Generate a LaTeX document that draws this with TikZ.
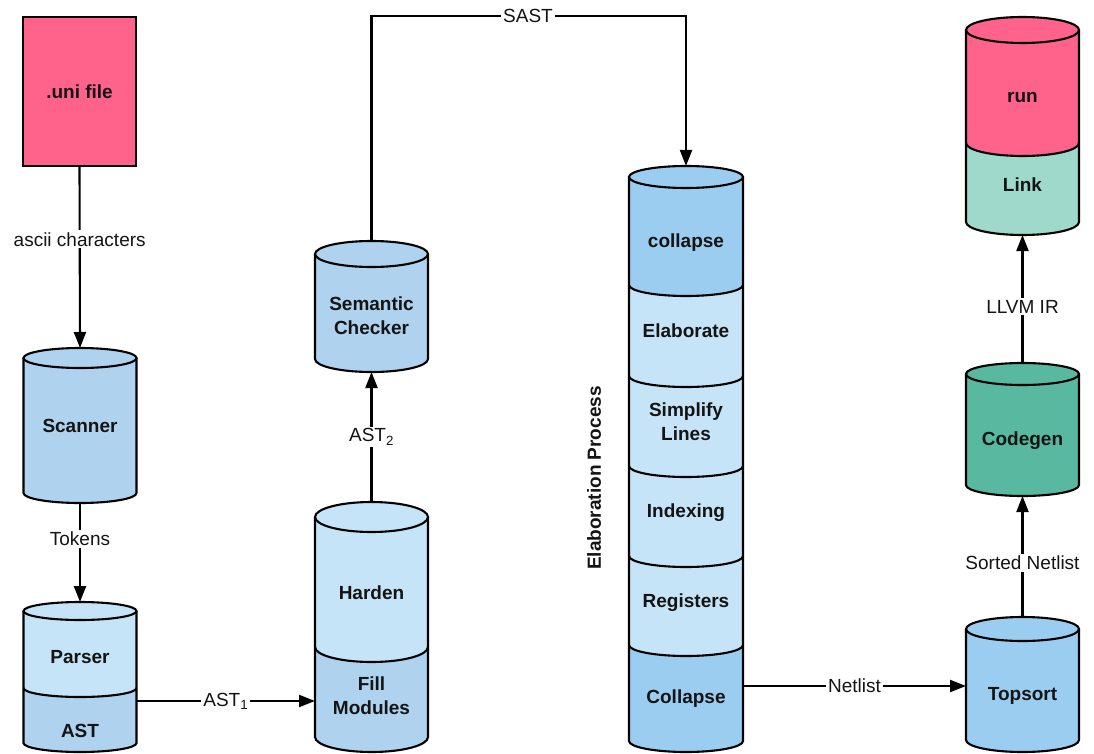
\documentclass[tikz,border=0pt]{standalone}
\usepackage{fontspec}
\setmainfont{Liberation Sans}
\usetikzlibrary{arrows.meta}
\definecolor{pinkc}{HTML}{FF638C}
\definecolor{linkc}{HTML}{9FD9CC}
\definecolor{codegenc}{HTML}{58B8A0}
\definecolor{lightb}{HTML}{C6E4F7}
\definecolor{medb}{HTML}{AFD3EF}
\definecolor{brightb}{HTML}{9BCDF1}
\definecolor{txt}{HTML}{141414}
% cx rx ry topcenter bottomedge colour
\newcommand{\cylFill}[6]{\fill[#6] (#1-#2,-#4) arc[start angle=180,end angle=0,x radius=#2,y radius=#3] -- (#1+#2,-#5) arc[start angle=0,end angle=-180,x radius=#2,y radius=#3] -- cycle;}
\newcommand{\cylBand}[6]{\fill[#6] (#1-#2,-#4) arc[start angle=180,end angle=360,x radius=#2,y radius=#3] -- (#1+#2,-#5) arc[start angle=0,end angle=-180,x radius=#2,y radius=#3] -- cycle;}
\newcommand{\cylLine}[5]{\draw (#1,-#4) ellipse[x radius=#2,y radius=#3]; \draw (#1-#2,-#4) -- (#1-#2,-#5) arc[start angle=180,end angle=360,x radius=#2,y radius=#3] -- (#1+#2,-#4);}
\newcommand{\cylDiv}[4]{\draw (#1-#2,-#4) arc[start angle=180,end angle=360,x radius=#2,y radius=#3];}
\begin{document}
\begin{tikzpicture}[x=1pt,y=1pt,line width=2.1pt,
  box/.style={font=\fontsize{19}{24}\selectfont\bfseries,text=txt,align=center,inner sep=0pt},
  lbl/.style={font=\fontsize{19}{24}\selectfont,text=txt,fill=white,inner sep=2pt},
  arr/.style={-{Triangle[length=16pt,width=12pt]}}]
\useasboundingbox (0,0) rectangle (1094,-754);
\fill[white] (0,0) rectangle (1094,-754);

% .uni file
\node[draw,fill=pinkc,minimum width=113pt,minimum height=149pt,box,line width=2.1pt] (uni) at (79.5,-91.5) {.uni file};

% Scanner
\cylFill{80}{56.5}{10}{358}{493}{medb}
\cylLine{80}{56.5}{10}{358}{493}
\node[box] (scanner) at (80,-426) {Scanner};
\coordinate (scanT) at (80,-348);
\coordinate (scanB) at (80,-503);

% Parser / AST
\cylFill{80}{56.5}{9}{611}{688}{lightb}
\cylBand{80}{56.5}{9}{688}{743}{medb}
\cylLine{80}{56.5}{9}{611}{743}
\cylDiv{80}{56.5}{9}{688}
\node[box] (parser) at (80,-657) {Parser};
\node[box] (ast) at (80,-731) {AST};
\coordinate (parT) at (80,-602);
\coordinate (parR) at (136.5,-701);

% Harden / Fill Modules
\cylFill{371.5}{56.5}{15}{517}{647}{lightb}
\cylBand{371.5}{56.5}{15}{647}{737}{medb}
\cylLine{371.5}{56.5}{15}{517}{737}
\cylDiv{371.5}{56.5}{15}{647}
\node[box] (harden) at (371.5,-593) {Harden};
\node[box] (fill) at (371.5,-696) {Fill\\Modules};
\coordinate (harT) at (371.5,-502);
\coordinate (harL) at (315,-701);

% Semantic Checker
\cylFill{371.5}{56.5}{13}{254}{359}{medb}
\cylLine{371.5}{56.5}{13}{254}{359}
\node[box] (sem) at (371.5,-316) {Semantic\\Checker};
\coordinate (semT) at (371.5,-241);
\coordinate (semB) at (371.5,-372);

% Elaboration column
\cylFill{686}{57}{11}{177}{285}{brightb}
\cylBand{686}{57}{11}{285}{376}{lightb}
\cylBand{686}{57}{11}{376}{466}{lightb}
\cylBand{686}{57}{11}{466}{556}{lightb}
\cylBand{686}{57}{11}{556}{645}{lightb}
\cylBand{686}{57}{11}{645}{741}{brightb}
\cylLine{686}{57}{11}{177}{741}
\cylDiv{686}{57}{11}{285}
\cylDiv{686}{57}{11}{376}
\cylDiv{686}{57}{11}{466}
\cylDiv{686}{57}{11}{556}
\cylDiv{686}{57}{11}{645}
\node[box] (collapseA) at (686,-243) {collapse};
\node[box] (elab) at (686,-331) {Elaborate};
\node[box] (simp) at (686,-422) {Simplify\\Lines};
\node[box] (idx) at (686,-513) {Indexing};
\node[box] (reg) at (686,-603) {Registers};
\node[box] (collapseB) at (686,-699) {Collapse};
\coordinate (elabT) at (686,-166);
\coordinate (elabR) at (743,-686);
\node[box,rotate=90] (elabproc) at (594,-478) {Elaboration Process};

% Topsort
\cylFill{1022.5}{56.5}{12}{629}{740}{brightb}
\cylLine{1022.5}{56.5}{12}{629}{740}
\node[box] (topsort) at (1022.5,-696) {Topsort};
\coordinate (topT) at (1022.5,-617);
\coordinate (topL) at (966,-686);

% Codegen
\cylFill{1022.5}{56.5}{11}{374}{485}{codegenc}
\cylLine{1022.5}{56.5}{11}{374}{485}
\node[box] (codegen) at (1022.5,-441) {Codegen};
\coordinate (codT) at (1022.5,-363);
\coordinate (codB) at (1022.5,-496);

% run / Link
\cylFill{1022.5}{56.5}{13}{30}{143}{pinkc}
\cylBand{1022.5}{56.5}{13}{143}{222}{linkc}
\cylLine{1022.5}{56.5}{13}{30}{222}
\cylDiv{1022.5}{56.5}{13}{143}
\node[box] (run) at (1022.5,-97) {run};
\node[box] (link) at (1022.5,-185) {Link};
\coordinate (linkB) at (1022.5,-235);

% connectors
\draw[arr] (uni.south) -- node[lbl,pos=0.4] {ascii characters} (scanT);
\draw[arr] (scanB) -- node[lbl,pos=0.36] {Tokens} (parT);
\draw[arr] (parR) -- node[lbl] {AST\textsubscript{1}} (harL);
\draw[arr] (harT) -- node[lbl] {AST\textsubscript{2}} (semB);
\coordinate (sastY) at (528,-16);
\draw[arr] (semT) |- (sastY) node[lbl] {SAST} -| (elabT);
\draw[arr] (elabR) -- node[lbl] {Netlist} (topL);
\draw[arr] (topT) -- node[lbl,pos=0.45] {Sorted Netlist} (codB);
\draw[arr] (codT) -- node[lbl,pos=0.44] {LLVM IR} (linkB);
\end{tikzpicture}
\end{document}
